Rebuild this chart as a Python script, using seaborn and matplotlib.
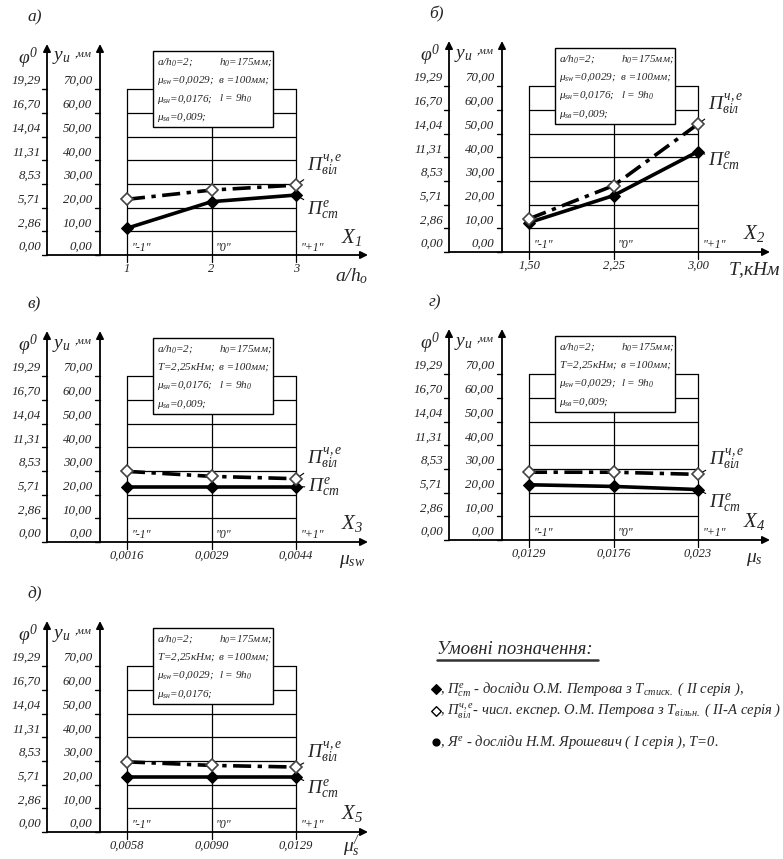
import matplotlib
matplotlib.use("Agg")
import matplotlib.pyplot as plt
from matplotlib.patches import Rectangle
import seaborn as sns

sns.set_theme(style="white")
plt.rcParams["font.family"] = ["Liberation Serif", "DejaVu Serif"]
plt.rcParams["font.style"] = "italic"
plt.rcParams["mathtext.fontset"] = "custom"
plt.rcParams["mathtext.rm"] = "Liberation Serif:italic"
plt.rcParams["mathtext.it"] = "Liberation Serif:italic"
plt.rcParams["mathtext.bf"] = "Liberation Serif:bold:italic"

# ---------------- data ----------------
levels = [-1, 0, 1]
level_labels = ['"-1"', '"0"', '"+1"']
yu_values = [0, 10, 20, 30, 40, 50, 60, 70]
yu_labels = ["0,00", "10,00", "20,00", "30,00", "40,00", "50,00", "60,00", "70,00"]
phi_labels = ["0,00", "2,86", "5,71", "8,53", "11,31", "14,04", "16,70", "19,29"]

panel_letters = ["а)", "б)", "в)", "г)", "д)"]
factor_names = [r"$X_1$", r"$X_2$", r"$X_3$", r"$X_4$", r"$X_5$"]
factor_axis = [r"$a/h_o$", r"$T$,кНм", r"$\mu_{sw}$", r"$\mu_s$", r"$\mu_s^{/}$"]
xticks_a = ["1", "2", "3"]
xticks_b = ["1,50", "2,25", "3,00"]
xticks_c = ["0,0016", "0,0029", "0,0044"]
xticks_d = ["0,0129", "0,0176", "0,023"]
xticks_e = ["0,0058", "0,0090", "0,0129"]

st_a = [11.3, 22.5, 25.3]
vil_a = [23.5, 27.4, 29.5]
st_b = [12.4, 23.8, 42.4]
vil_b = [14.0, 28.0, 54.0]
st_c = [23.4, 23.4, 23.4]
vil_c = [29.8, 27.7, 26.7]
st_d = [23.3, 22.6, 21.3]
vil_d = [28.6, 28.6, 27.7]
st_e = [23.3, 23.3, 23.3]
vil_e = [29.6, 28.1, 27.4]

box_a = [[r"$a/h_0$=2;", r"$h_0$=175мм;"], [r"$\mu_{sw}$=0,0029;", "в =100мм;"],
         [r"$\mu_{sн}$=0,0176;", r"$l$ = 9$h_0$"], [r"$\mu_{sв}$=0,009;", ""]]
box_b = box_a
box_c = [[r"$a/h_0$=2;", r"$h_0$=175мм;"], [r"$T$=2,25кНм;", "в =100мм;"],
         [r"$\mu_{sн}$=0,0176;", r"$l$ = 9$h_0$"], [r"$\mu_{sв}$=0,009;", ""]]
box_d = [[r"$a/h_0$=2;", r"$h_0$=175мм;"], [r"$T$=2,25кНм;", "в =100мм;"],
         [r"$\mu_{sw}$=0,0029;", r"$l$ = 9$h_0$"], [r"$\mu_{sв}$=0,009;", ""]]
box_e = [[r"$a/h_0$=2;", r"$h_0$=175мм;"], [r"$T$=2,25кНм;", "в =100мм;"],
         [r"$\mu_{sw}$=0,0029;", r"$l$ = 9$h_0$"], [r"$\mu_{sн}$=0,0176;", ""]]

label_vil = r"$П^{ч,е}_{віл}$"
label_st = r"$П^{е}_{ст}$"

# ---------------- layout (pixels) ----------------
W, H = 783, 859
fig = plt.figure(figsize=(W / 100, H / 100), dpi=100)
LEV = 84.5   # px per coded level
S = 2.37     # px per mm

panels = [
    dict(gl=127, gb=255, xt=xticks_a, st=st_a, vil=vil_a, box=box_a, off_v=(11, 20), off_s=(11, -16), fa=-21),
    dict(gl=529, gb=252, xt=xticks_b, st=st_b, vil=vil_b, box=box_b, off_v=(10, 20), off_s=(10, -10), fa=-18),
    dict(gl=127, gb=542, xt=xticks_c, st=st_c, vil=vil_c, box=box_c, off_v=(11, 20), off_s=(12, -1), fa=-20),
    dict(gl=529, gb=540, xt=xticks_d, st=st_d, vil=vil_d, box=box_d, off_v=(11, 15), off_s=(11, -14), fa=-19),
    dict(gl=127, gb=832, xt=xticks_e, st=st_e, vil=vil_e, box=box_e, off_v=(11, 15), off_s=(11, -13), fa=-14),
]

def px_x(p):
    return p / LEV

def px_y(p):
    return p / S

for i, P in enumerate(panels):
    gl, gb = P["gl"], P["gb"]
    x0 = gl - 127
    ytop = gb - 256
    ybot = gb + 34
    ax = fig.add_axes([x0 / W, 1 - ybot / H, 390 / W, (ybot - ytop) / H])
    xmid = gl + LEV
    ax.set_xlim((x0 - xmid) / LEV, (x0 + 390 - xmid) / LEV)
    ax.set_ylim((gb - ybot) / S, (gb - ytop) / S)
    ax.axis("off")

    phi_x = -1 - px_x(80)
    yu_x = -1 - px_x(27)
    top = px_y(211)

    # grid
    for v in yu_values[1:]:
        ax.plot([-1, 1], [v, v], color="black", lw=0.9, zorder=1)
    for lv in levels:
        ax.plot([lv, lv], [-px_y(7), 70], color="black", lw=0.9, zorder=1)

    # axes with arrows
    arrow = dict(arrowstyle="-|>", color="black", lw=1.3, mutation_scale=11,
                 shrinkA=0, shrinkB=0)
    ax.annotate("", xy=(1 + px_x(72), 0), xytext=(phi_x, 0), arrowprops=arrow, zorder=2)
    ax.annotate("", xy=(phi_x, top), xytext=(phi_x, 0), arrowprops=arrow, zorder=2)
    ax.annotate("", xy=(yu_x, top), xytext=(yu_x, 0), arrowprops=arrow, zorder=2)

    # left tick marks and labels
    for v, lab_y, lab_p in zip(yu_values, yu_labels, phi_labels):
        ax.plot([phi_x - px_x(5), phi_x], [v, v], color="black", lw=1.0)
        ax.plot([yu_x - px_x(5), yu_x], [v, v], color="black", lw=1.0)
        ax.text(phi_x - px_x(6), v + 0.8, lab_p, ha="right", va="bottom", fontsize=9.3, color="#222222")
        ax.text(yu_x - px_x(8), v + 0.8, lab_y, ha="right", va="bottom", fontsize=9.3, color="#222222")

    ax.text(phi_x - px_x(9), top - px_y(14), r"$\varphi^0$", ha="right", va="center", fontsize=14)
    ax.text(phi_x + px_x(5), top - px_y(14), r"$y_и$", ha="left", va="center", fontsize=14)
    ax.text(phi_x + px_x(28), top - px_y(10), ",мм", ha="left", va="center", fontsize=8)

    # level and value labels
    for lv, ll, xt in zip(levels, level_labels, P["xt"]):
        ax.text(lv + px_x(4), px_y(7), ll, ha="left", va="center", fontsize=8.5, color="#222222")
        ax.text(lv, -px_y(14), xt, ha="center", va="center", fontsize=9, color="#222222")

    ax.text(1 + px_x(56), px_y(18), factor_names[i], ha="center", va="center", fontsize=15)
    ax.text(1 + px_x(56), px_y(P["fa"]), factor_axis[i], ha="center", va="center", fontsize=14)
    ax.text(-1 - px_x(100), px_y(238), panel_letters[i], ha="left", va="center", fontsize=12.5)

    # info box
    bx0, bx1 = -1 + px_x(26), -1 + px_x(146)
    by0, by1 = px_y(128), px_y(204)
    ax.add_patch(Rectangle((bx0, by0), bx1 - bx0, by1 - by0, facecolor="white",
                           edgecolor="black", lw=1.0, zorder=5))
    for r, (c1, c2) in enumerate(P["box"]):
        yy = by1 - px_y(11 + 18.5 * r)
        ax.text(bx0 + px_x(4), yy, c1, ha="left", va="center", fontsize=8, zorder=6)
        if c2:
            ax.text(bx0 + px_x(66), yy, c2, ha="left", va="center", fontsize=8, zorder=6)

    # series
    sns.lineplot(x=levels, y=P["st"], ax=ax, color="black", lw=2.6, marker="D",
                 markersize=6, markerfacecolor="black", markeredgecolor="black", zorder=4)
    sns.lineplot(x=levels, y=P["vil"], ax=ax, color="black", lw=2.6,
                 linestyle=(0, (5, 1.8, 1.2, 1.8)), marker="D", markersize=6.5,
                 markerfacecolor="white", markeredgecolor="#444444", markeredgewidth=1.2, zorder=4)

    ax.annotate(label_vil, xy=(levels[-1], P["vil"][-1]), xytext=P["off_v"],
                textcoords="offset pixels", ha="left", va="center", fontsize=14,
                arrowprops=dict(arrowstyle="-", color="black", lw=0.8, shrinkA=0, shrinkB=3))
    ax.annotate(label_st, xy=(levels[-1], P["st"][-1]), xytext=P["off_s"],
                textcoords="offset pixels", ha="left", va="center", fontsize=14,
                arrowprops=dict(arrowstyle="-", color="black", lw=0.8, shrinkA=0, shrinkB=3))

# ---------------- legend block ----------------
lg = fig.add_axes([400 / W, 1 - 780 / H, 383 / W, 160 / H])
lg.set_xlim(400, 783)
lg.set_ylim(780, 620)
lg.axis("off")
lg.text(437, 650, "Умовні позначення:", ha="left", va="center", fontsize=13.5)
lg.plot([437, 598], [660, 660], color="#333333", lw=1.8)

legend_markers = [("D", "black", "black"), ("D", "white", "black"), ("o", "black", "black")]
legend_texts = [
    r", $П^{е}_{ст}$ - досліди О.М. Петрова з Т$_{\mathrm{стиск.}}$ ( II серія ),",
    r", $П^{ч,е}_{віл}$- числ. експер. О.М. Петрова з Т$_{\mathrm{вільн.}}$ ( II-А серія )",
    r", $Я^{е}$ - досліди Н.М. Ярошевич ( I серія ), T=0.",
]
legend_y = [689, 711, 742]
for (m, fc, ec), t, y in zip(legend_markers, legend_texts, legend_y):
    lg.scatter([436], [y], marker=m, s=24, facecolor=fc, edgecolor=ec, linewidths=1.0, zorder=3)
    lg.text(440, y, t, ha="left", va="center", fontsize=10.5)

fig.savefig("out.png", dpi=100, facecolor="white")
